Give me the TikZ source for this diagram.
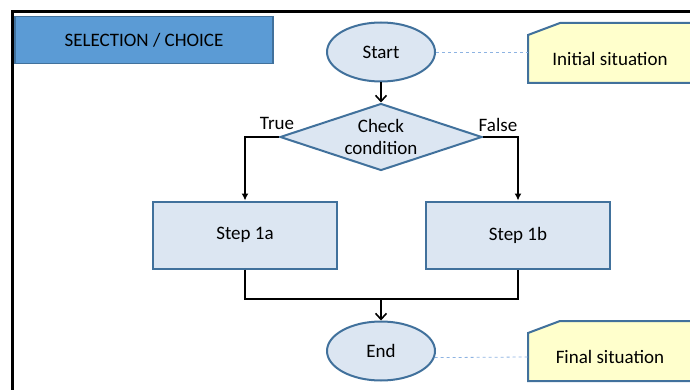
\documentclass[tikz,border=0pt]{standalone}
\usepackage{fontspec}
\setmainfont{Carlito}
\usepackage{tikz}
\usetikzlibrary{shapes.geometric,arrows.meta,positioning}

\definecolor{titleblue}{RGB}{91,155,213}
\definecolor{edgeblue}{RGB}{65,113,156}
\definecolor{paleblue}{RGB}{220,230,242}
\definecolor{paleyellow}{RGB}{255,255,204}
\definecolor{guideblue}{RGB}{141,179,226}

\tikzset{
  every node/.style={font=\fontsize{19}{22}\selectfont},
  titlebox/.style={rectangle, draw=edgeblue, fill=titleblue, line width=1.2pt,
    minimum width=258, minimum height=47},
  terminal/.style={ellipse, draw=edgeblue, fill=paleblue, line width=2pt,
    minimum width=108, minimum height=59, inner sep=0pt},
  decision/.style={diamond, draw=edgeblue, fill=paleblue, line width=2pt,
    aspect=3, minimum width=202, minimum height=67, inner sep=0pt, align=center},
  stepbox/.style={rectangle, draw=edgeblue, fill=paleblue, line width=2pt,
    minimum width=184, minimum height=67},
  notebox/.style={draw=edgeblue, fill=paleyellow, line width=2pt},
  guide/.style={draw=guideblue, dashed, line width=0.8pt},
  flow/.style={draw=black, line width=2.2pt},
  barb/.style={flow, -{Straight Barb[length=6pt,width=11pt,line width=1.6pt]}},
  tip/.style={flow, -{Latex[length=7pt,width=7pt]}}
}

\begin{document}
\begin{tikzpicture}[x=1pt, y=-1pt]
\useasboundingbox (0,0) rectangle (690,390);
\clip (0,0) rectangle (690,390);

% outer frame
\draw[line width=3pt] (12,400) -- (12,12) -- (700,12);

% heading
\node[titlebox] (title) at (144,40) {SELECTION / CHOICE};

% comment notes on the right
\draw[notebox] (528,35) -- (560,23) -- (700,23) -- (700,83) -- (528,83) -- cycle;
\draw[notebox] (528,333) -- (560,321) -- (700,321) -- (700,381) -- (528,381) -- cycle;
\node (initnote) at (610,59) {Initial situation};
\node (finalnote) at (610,357) {Final situation};
\coordinate (initedge) at (528,52);
\coordinate (finaledge) at (528,357);

% flow chart
\path
(381,52) node[terminal] (start) {Start}
(381,137) node[decision] (check) {Check\\condition}
(245,235) node[stepbox] (stepa) {Step 1a}
(518,235) node[stepbox] (stepb) {Step 1b}
(381,351) node[terminal] (finish) {End};

\coordinate (join) at (381,299);

\node[above=4pt of check.west, xshift=-2pt] (truelbl) {True};
\node[above=2pt of check.east, xshift=15pt] (falselbl) {False};

\draw[barb] (start) -- (check);
\draw[tip] (check.west) -| (stepa.north);
\draw[tip] (check.east) -| (stepb.north);
\draw[flow] (stepa.south) |- (join) -| (stepb.south);
\draw[barb] (join) -- (finish.north);

% dashed guides to the notes
\draw[guide] (start) -- (initedge);
\draw[guide] (finish.-7) -- (finaledge);

\end{tikzpicture}
\end{document}
